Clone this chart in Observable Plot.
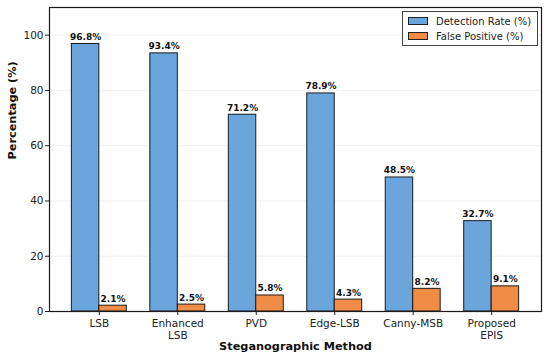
<!DOCTYPE html>
<html>
<head>
<meta charset="utf-8">
<script src="https://cdn.jsdelivr.net/npm/d3@7"></script>
<script src="https://cdn.jsdelivr.net/npm/@observablehq/plot@0.6"></script>
<style>
  html, body { margin: 0; padding: 0; background: #fff; }
  #wrap { position: relative; width: 550px; height: 361px; font-family: "DejaVu Sans", sans-serif; }
  #legend { position: absolute; left: 402px; top: 11px; width: 136px; height: 35px; border: 1px solid #444; background: #fff; box-sizing: border-box; font-size: 10px; color: #222; }
  .row { position: absolute; left: 5px; height: 12px; display: flex; align-items: center; }
  .sw { width: 20px; height: 8px; border: 1px solid #222; box-sizing: border-box; margin-right: 8px; }
</style>
</head>
<body>
<div id="wrap"></div>
<script>
const methods = ["LSB", "Enhanced\nLSB", "PVD", "Edge-LSB", "Canny-MSB", "Proposed\nEPIS"];
const detectionRate = [96.8, 93.4, 71.2, 78.9, 48.5, 32.7];
const falsePositive = [2.1, 2.5, 5.8, 4.3, 8.2, 9.1];
const seriesNames = ["Detection Rate (%)", "False Positive (%)"];
const yTicks = [0, 20, 40, 60, 80, 100];

const colors = ["#6aa6dc", "#f08c46"];
const barW = 0.35;

const rows = [];
methods.forEach((m, i) => {
  rows.push({i, s: 0, value: detectionRate[i]});
  rows.push({i, s: 1, value: falsePositive[i]});
});

const chart = Plot.plot({
  width: 550,
  height: 361,
  marginLeft: 49,
  marginRight: 9,
  marginTop: 7,
  marginBottom: 50,
  style: {fontFamily: "'DejaVu Sans', sans-serif", fontSize: "10px", color: "#222", background: "#fff"},
  x: {type: "linear", domain: [-0.635, 5.635], axis: null},
  y: {domain: [0, 110], axis: null},
  marks: [
    Plot.ruleY(yTicks.slice(1), {stroke: "#ececec", strokeWidth: 0.8}),
    Plot.rectY(rows, {
      x1: d => d.i + (d.s === 0 ? -barW : 0),
      x2: d => d.i + (d.s === 0 ? 0 : barW),
      y1: 0,
      y2: "value",
      fill: d => colors[d.s],
      stroke: "#1a1a1a",
      strokeWidth: 1
    }),
    Plot.text(rows, {
      x: d => d.i + (d.s === 0 ? -barW / 2 : barW / 2),
      y: "value",
      text: d => d.value.toFixed(1) + "%",
      textAnchor: "middle",
      lineAnchor: "bottom",
      dy: -4,
      fontSize: 9,
      fontWeight: "bold",
      fill: "#111"
    }),
    Plot.axisX({
      ticks: d3.range(methods.length),
      tickFormat: i => methods[i],
      tickSize: 4,
      tickPadding: 3,
      fontSize: 10.5,
      lineHeight: 1.15,
      label: null
    }),
    Plot.axisY({
      ticks: yTicks,
      tickSize: 4,
      tickPadding: 2,
      fontSize: 10.5,
      label: null
    }),
    Plot.frame({stroke: "#1a1a1a", strokeWidth: 1.2}),
    Plot.text(["Percentage (%)"], {frameAnchor: "left", dx: -37, rotate: -90, text: d => d, fontWeight: "bold", fontSize: 11.3, fill: "#111"}),
    Plot.text(["Steganographic Method"], {frameAnchor: "bottom", dy: 38, text: d => d, fontWeight: "bold", fontSize: 11.3, fill: "#111"})
  ]
});

const wrap = document.getElementById("wrap");
wrap.appendChild(chart);

const legend = document.createElement("div");
legend.id = "legend";
seriesNames.forEach((name, k) => {
  const row = document.createElement("div");
  row.className = "row";
  row.style.top = (k === 0 ? 3 : 18) + "px";
  const sw = document.createElement("div");
  sw.className = "sw";
  sw.style.background = colors[k];
  const t = document.createElement("span");
  t.textContent = name;
  row.appendChild(sw);
  row.appendChild(t);
  legend.appendChild(row);
});
wrap.appendChild(legend);
</script>
</body>
</html>
